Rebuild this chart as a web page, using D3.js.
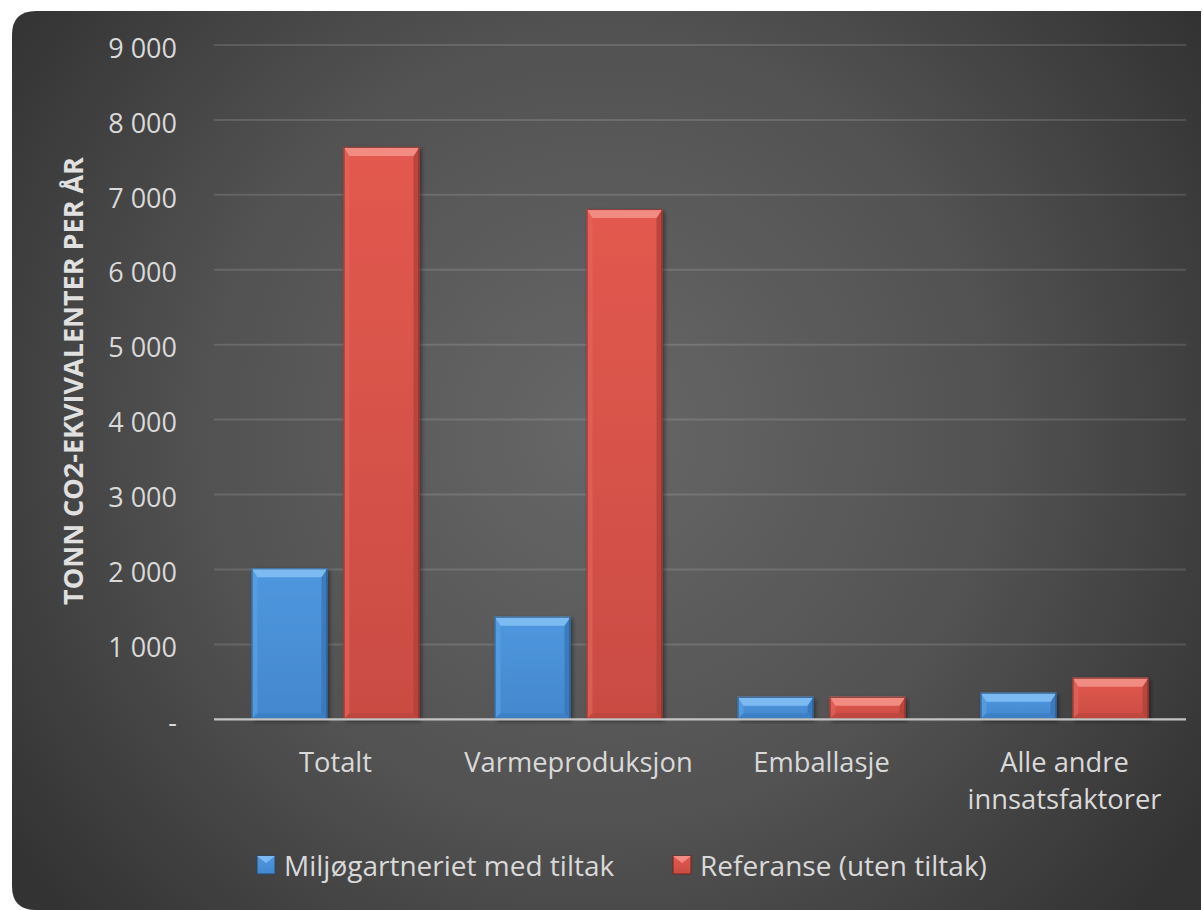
<!DOCTYPE html>
<html><head><meta charset="utf-8">
<script src="https://cdn.jsdelivr.net/npm/d3@7"></script>
<style>html,body{margin:0;padding:0;background:#fff;}svg{display:block;}</style>
</head><body>
<script>
const categories = ["Totalt", "Varmeproduksjon", "Emballasje", "Alle andre\ninnsatsfaktorer"];
const seriesNames = ["Miljøgartneriet med tiltak", "Referanse (uten tiltak)"];
const withMeasures = [2015, 1370, 300, 355];
const reference = [7640, 6810, 300, 555];
const tickValues = [0, 1000, 2000, 3000, 4000, 5000, 6000, 7000, 8000, 9000];
const tickLabels = ["-", "1 000", "2 000", "3 000", "4 000", "5 000", "6 000", "7 000", "8 000", "9 000"];
const yTitle = "TONN CO2-EKVIVALENTER PER ÅR";

const W = 1203, H = 910;
const svg = d3.select("body").append("svg").attr("width", W).attr("height", H);
const defs = svg.append("defs");

const rg = defs.append("radialGradient").attr("id","bg").attr("gradientUnits","userSpaceOnUse")
  .attr("cx",600).attr("cy",430).attr("r",720);
rg.append("stop").attr("offset","0").attr("stop-color","#676767");
rg.append("stop").attr("offset","0.55").attr("stop-color","#525252");
rg.append("stop").attr("offset","1").attr("stop-color","#333333");

const palettes = [
  {body0:"#4f97de", body1:"#4388cf", top:"#7cbaf2", left:"#5aa0e2", right:"#3875b5", bottom:"#3a7cc0", stroke:"#24496f"},
  {body0:"#e3594f", body1:"#c94c43", top:"#f28b82", left:"#e2645a", right:"#b0413a", bottom:"#b9443c", stroke:"#6e2621"}
];
palettes.forEach((p,i)=>{
  const g = defs.append("linearGradient").attr("id","bar"+i).attr("x1",0).attr("y1",0).attr("x2",0).attr("y2",1);
  g.append("stop").attr("offset","0").attr("stop-color",p.body0);
  g.append("stop").attr("offset","1").attr("stop-color",p.body1);
});
const sh = defs.append("filter").attr("id","shadow").attr("x","-20%").attr("y","-20%").attr("width","140%").attr("height","140%");
sh.append("feDropShadow").attr("dx",2).attr("dy",2).attr("stdDeviation",2).attr("flood-color","#000").attr("flood-opacity",0.45);

const bx0 = 12, by0 = 11, bx1 = 1201, by1 = 910, r = 24;
svg.append("path")
  .attr("d", `M${bx0+r},${by0} L${bx1},${by0} L${bx1},${by1} L${bx0+r},${by1} Q${bx0},${by1} ${bx0},${by1-r} L${bx0},${by0+r} Q${bx0},${by0} ${bx0+r},${by0} Z`)
  .attr("fill","url(#bg)");

const plotL = 214, plotR = 1186, plotT = 45, plotB = 719.3;
const y = d3.scaleLinear().domain([0, 9000]).range([plotB, plotT]);
const x0 = d3.scaleBand().domain(categories).range([plotL, plotR]).paddingInner(0).paddingOuter(0);
const x1 = d3.scaleBand().domain(seriesNames).range([0, x0.bandwidth()]).paddingInner(0.174).paddingOuter(0.4076);

const font = "'Open Sans', 'DejaVu Sans', sans-serif";
const textCol = "#d9d9d9";

svg.append("g").selectAll("line").data(tickValues.filter(v=>v>0)).join("line")
  .attr("x1", plotL).attr("x2", plotR)
  .attr("y1", d=>y(d)).attr("y2", d=>y(d))
  .attr("stroke","rgba(255,255,255,0.13)").attr("stroke-width",2);

const yAxis = d3.axisLeft(y).tickValues(tickValues).tickSize(0).tickPadding(0)
  .tickFormat((d,i)=>tickLabels[i]);
const ya = svg.append("g").attr("transform",`translate(177,0)`).call(yAxis);
ya.select(".domain").remove();
ya.selectAll("text").attr("font-family",font).attr("font-size",27).attr("fill",textCol)
  .attr("dy","0.45em");

svg.append("text").attr("transform","translate(83,381) rotate(-90)")
  .attr("text-anchor","middle").attr("font-family",font).attr("font-weight","bold")
  .attr("font-size",27).attr("fill","#e0e0e0").text(yTitle);

const data = categories.map((c,i)=>({cat:c, vals:[withMeasures[i], reference[i]]}));
const gBars = svg.append("g");
data.forEach(d=>{
  d.vals.forEach((v,si)=>{
    const p = palettes[si];
    const x = x0(d.cat) + x1(seriesNames[si]);
    const w = x1.bandwidth();
    const yt = y(v), h = y(0) - yt;
    const b = Math.min(9, h/2.2);
    const bs = Math.min(6, h/2.2);
    const g = gBars.append("g");
    g.append("rect").attr("x",x).attr("y",yt).attr("width",w).attr("height",h)
      .attr("fill","url(#bar"+si+")").attr("filter","url(#shadow)");
    g.append("polygon").attr("points",[[x,yt],[x+bs,yt+b],[x+bs,yt+h-bs],[x,yt+h]].join(" "))
      .attr("fill",p.left).attr("opacity",0.7);
    g.append("polygon").attr("points",[[x+w,yt],[x+w-bs,yt+b],[x+w-bs,yt+h-bs],[x+w,yt+h]].join(" "))
      .attr("fill",p.right).attr("opacity",0.8);
    g.append("polygon").attr("points",[[x,yt+h],[x+bs,yt+h-bs],[x+w-bs,yt+h-bs],[x+w,yt+h]].join(" "))
      .attr("fill",p.bottom).attr("opacity",0.7);
    g.append("polygon").attr("points",[[x,yt],[x+w,yt],[x+w-bs,yt+b],[x+bs,yt+b]].join(" "))
      .attr("fill",p.top);
    g.append("rect").attr("x",x+0.5).attr("y",yt+0.5).attr("width",w-1).attr("height",h-1)
      .attr("fill","none").attr("stroke",p.stroke).attr("stroke-width",1).attr("opacity",0.8);
  });
});

svg.append("line").attr("x1",plotL).attr("x2",plotR).attr("y1",y(0)).attr("y2",y(0))
  .attr("stroke","#c4c4c4").attr("stroke-width",2.2);

const xAxis = d3.axisBottom(x0).tickSize(0).tickPadding(0).tickFormat("");
const xa = svg.append("g").attr("transform",`translate(0,${plotB})`).call(xAxis);
xa.select(".domain").remove();
categories.forEach(c=>{
  const lines = c.split("\n");
  const t = svg.append("text").attr("text-anchor","middle").attr("font-family",font)
    .attr("font-size",27.3).attr("fill",textCol);
  lines.forEach((ln,i)=>{
    t.append("tspan").attr("x", x0(c)+x0.bandwidth()/2).attr("y", 772 + i*36.5).text(ln);
  });
});

const legendItems = [{name:seriesNames[0], x:257}, {name:seriesNames[1], x:673}];
legendItems.forEach((it,i)=>{
  const p = palettes[i];
  const g = svg.append("g");
  const lx = it.x, ly = 856, s = 18;
  g.append("rect").attr("x",lx).attr("y",ly).attr("width",s).attr("height",s).attr("fill","url(#bar"+i+")")
    .attr("stroke",p.stroke).attr("stroke-width",1);
  g.append("polygon").attr("points",[[lx,ly],[lx+s,ly],[lx+s/2,ly+7]].join(" ")).attr("fill",p.top);
  g.append("text").attr("x",lx+s+9).attr("y",876).attr("font-family",font).attr("font-size",28)
    .attr("fill",textCol).text(it.name);
});
</script>
</body></html>
